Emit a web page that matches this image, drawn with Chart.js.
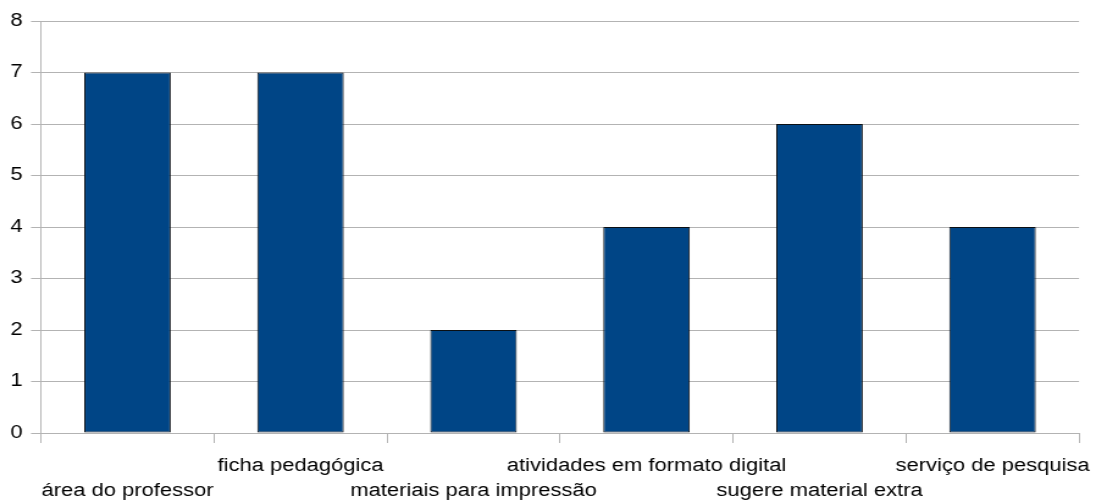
<!DOCTYPE html>
<html><head><meta charset="utf-8">
<script src="https://cdn.jsdelivr.net/npm/chart.js@4/dist/chart.umd.min.js"></script>
<style>html,body{margin:0;padding:0;background:#fff;overflow:hidden}#wrap{width:898px;height:501px;transform:scaleX(1.22049);transform-origin:0 0}</style>
</head><body><div id="wrap"><canvas id="c" width="898" height="501"></canvas></div>
<script>
const categories = ["área do professor","ficha pedagógica","materiais para impressão","atividades em formato digital","sugere material extra","serviço de pesquisa"];
const values = [7,7,2,4,6,4];
const yTicks = [0,1,2,3,4,5,6,7,8];

const SX = 1096 / 898;
new Chart(document.getElementById('c'), {
  type: 'bar',
  data: { labels: categories, datasets: [{ data: values, backgroundColor: '#004586', borderColor: '#0a0f14', borderWidth: 1, borderSkipped: false, barPercentage: 0.5, categoryPercentage: 1.0 }] },
  options: {
    responsive: false, animation: false,
    layout: { padding: { top: 21, right: 17 / SX, left: 0, bottom: 0 } },
    plugins: { legend: { display: false }, tooltip: { enabled: false } },
    scales: {
      x: {
        offset: true,
        grid: { offset: true, drawOnChartArea: false, color: '#b3b3b3', tickLength: 10, tickColor: '#b3b3b3' },
        border: { color: '#b3b3b3' },
        ticks: { color: '#000', font: { family: 'Liberation Sans', size: 18, lineHeight: '25px' }, maxRotation: 0, autoSkip: false, padding: 11,
          callback: function(v, i) { const l = categories[i]; return i % 2 === 0 ? ['', l] : [l, '']; } },
        afterFit: s => { s.height = 68; s.paddingLeft = 0; s.paddingRight = 0; }
      },
      y: {
        min: 0, max: 8,
        afterBuildTicks: s => { s.ticks = yTicks.map(v => ({ value: v })); },
        grid: { color: '#b3b3b3', tickLength: 10 / SX },
        border: { color: '#b3b3b3' },
        ticks: { color: '#000', font: { family: 'Liberation Sans', size: 18 }, padding: 7 },
        afterFit: s => { s.width = 41 / SX; s.paddingTop = 0; s.paddingBottom = 0; }
      }
    }
  }
});
</script></body></html>
